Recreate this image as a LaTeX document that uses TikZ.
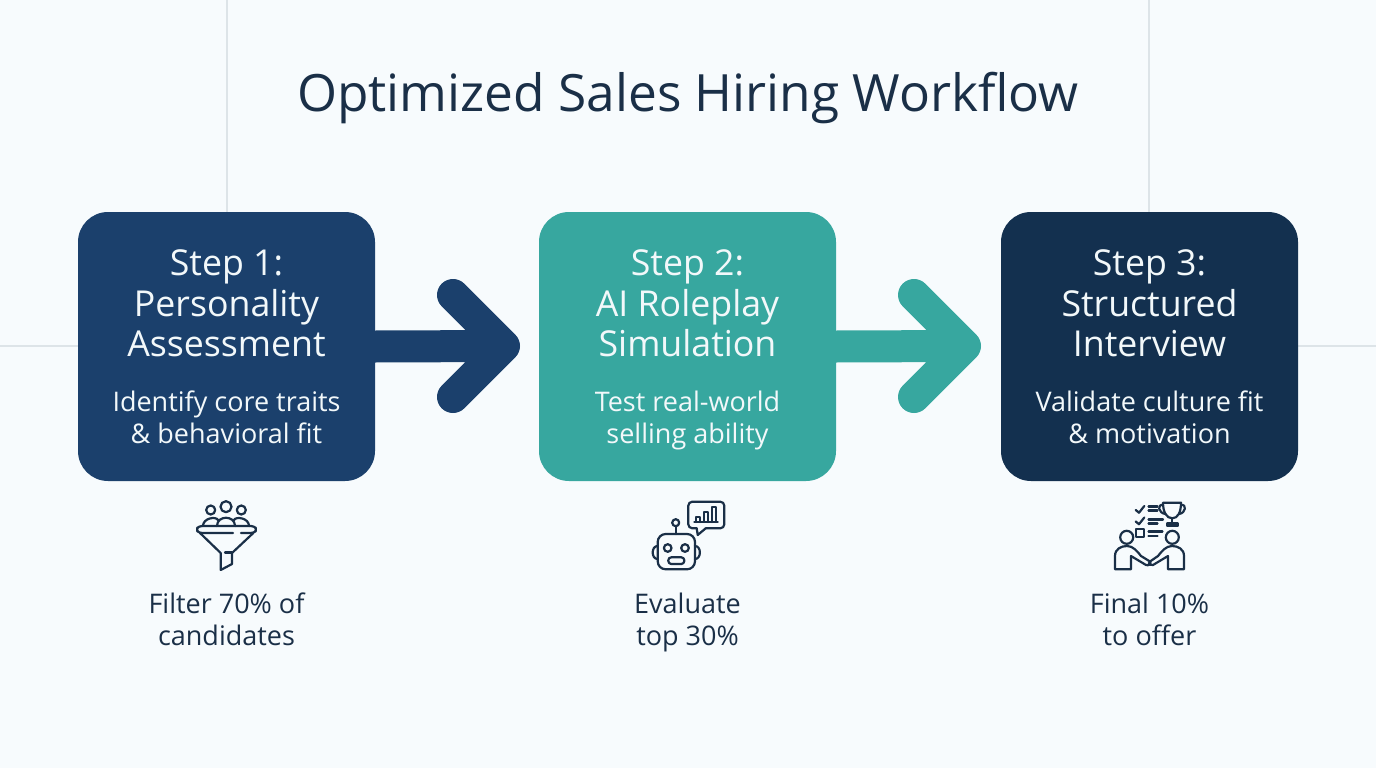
\documentclass[tikz,border=0pt]{standalone}
\usepackage{fontspec}
\setmainfont{Open Sans}
\definecolor{pagebg}{HTML}{F7FBFD}
\definecolor{gridline}{HTML}{DDE4E8}
\definecolor{navy}{HTML}{1B406C}
\definecolor{teal}{HTML}{37A79F}
\definecolor{midnight}{HTML}{13304F}
\definecolor{ink}{HTML}{1A2F47}
\definecolor{boxtext}{HTML}{F2F8FA}
\tikzset{
    stepbox/.style={minimum width=297pt, minimum height=269pt, inner sep=0pt, rounded corners=30pt},
    flowarrow/.style={line width=32pt, line join=round, line cap=round},
    headtext/.style={text=boxtext, align=center, text depth=0pt, font=\fontsize{35.7}{40.5}\selectfont},
    desctext/.style={text=boxtext, align=center, text depth=0pt, font=\fontsize{27}{32}\selectfont},
    notetext/.style={text=ink, align=center, text depth=0pt, font=\fontsize{27}{32}\selectfont},
    icon/.style={draw=ink, line width=2.2pt, line cap=round, line join=round},
}
\begin{document}
\begin{tikzpicture}[x=1pt,y=-1pt]
    \fill[pagebg] (0,0) rectangle (1376,768);
    \useasboundingbox (0,0) rectangle (1376,768);

    \draw[gridline, line width=1.2pt] (227,0) -- (227,212);
    \draw[gridline, line width=1.2pt] (1149,0) -- (1149,212);
    \draw[gridline, line width=1.2pt] (0,346) -- (78,346);
    \draw[gridline, line width=1.2pt] (1298,346) -- (1376,346);

    \node[text=ink, font=\fontsize{51.4}{60}\selectfont] (title) at (688,98.5) {Optimized Sales Hiring Workflow};

    \node[stepbox, fill=navy] (box1) at (226.5,346.5) {};
    \node[stepbox, fill=teal] (box2) at (687.5,346.5) {};
    \node[stepbox, fill=midnight] (box3) at (1149.5,346.5) {};

    \coordinate (tip1) at (504,346);
    \coordinate (tip2) at (965,346);
    \draw[navy, flowarrow] (box1.east) -- (tip1) ++(-51,-51) -- ++(51,51) -- ++(-51,51);
    \draw[teal, flowarrow] (box2.east) -- (tip2) ++(-51,-51) -- ++(51,51) -- ++(-51,51);

    \node[headtext] (head1) at (226.5,303.5) {Step 1:\\Personality\\Assessment};
    \node[headtext] (head2) at (687.5,303.5) {Step 2:\\AI Roleplay\\Simulation};
    \node[headtext] (head3) at (1149.5,303.5) {Step 3:\\Structured\\Interview};

    \node[desctext] (desc1) at (226.5,417) {Identify core traits\\\& behavioral fit};
    \node[desctext] (desc2) at (687.5,417) {Test real-world\\selling ability};
    \node[desctext] (desc3) at (1149.5,417) {Validate culture fit\\\& motivation};

    \node[notetext] (note1) at (226.5,619) {Filter 70\% of\\candidates};
    \node[notetext] (note2) at (687.5,619) {Evaluate\\top 30\%};
    \node[notetext] (note3) at (1149.5,619) {Final 10\%\\to offer};

    % funnel
    \draw[icon] (210.7,510) circle (4.5);
    \draw[icon] (226,506.7) circle (5.5);
    \draw[icon] (241.3,510) circle (4.5);
    \draw[icon] (203,526) .. controls (203,518) and (216,516) .. (218,520);
    \draw[icon] (217,526) .. controls (217,515) and (235,515) .. (235,526);
    \draw[icon] (249,526) .. controls (249,518) and (236,516) .. (234,520);
    \draw[icon, rounded corners=3pt] (233,533) -- (199,533) -- (196,529.5) -- (199,526) -- (254,526) -- (257,529.5) -- (254,533) -- (241,533);
    \draw[icon] (200,533) -- (220.7,553) -- (220.7,570) -- (232,564) -- (232,553) -- (253.3,533);
    \draw[icon] (225,552.5) -- (232,552.5);

    % robot
    \draw[icon, rounded corners=8pt] (657.7,534) rectangle (695,569.3);
    \draw[icon] (657.7,546) .. controls (651,546) and (651,559) .. (657.7,559);
    \draw[icon] (695,546) .. controls (701.5,546) and (701.5,559) .. (695,559);
    \draw[icon] (675.7,522.7) circle (3.5);
    \draw[icon] (675.7,526.2) -- (675.7,534);
    \draw[icon] (667.7,548) circle (3.8);
    \draw[icon] (685,548) circle (3.8);
    \draw[icon, rounded corners=3pt] (668.3,557.3) rectangle (684.3,564);
    \draw[icon, rounded corners=4pt] (696.7,528.3) -- (688.3,528.3) -- (688.3,501.7) -- (724.3,501.7) -- (724.3,528.3) -- (705.7,528.3);
    \draw[icon] (696.7,528.3) -- (697.7,535) -- (705.7,528.3);
    \draw[icon] (694.3,522.3) -- (717.7,522.3);
    \draw[icon, line width=1.8pt] (696,522.3) -- (696,517) -- (700,517) -- (700,522.3);
    \draw[icon, line width=1.8pt] (704,522.3) -- (704,512) -- (708,512) -- (708,522.3);
    \draw[icon, line width=1.8pt] (712,522.3) -- (712,507) -- (716,507) -- (716,522.3);

    % handshake, checklist and trophy
    \draw[icon] (1126.7,537.3) circle (6.5);
    \draw[icon] (1172.3,537.3) circle (6.5);
    \draw[icon] (1131,569.3) -- (1115,569.3) -- (1115,556) .. controls (1115,549) and (1121,546) .. (1127,546) .. controls (1133,546) and (1137,551) .. (1141,556) -- (1150,561.5) .. controls (1152,564) and (1148,566) .. (1146,565) -- (1131,556) -- (1131,569.3);
    \draw[icon] (1168,569.3) -- (1184,569.3) -- (1184,556) .. controls (1184,549) and (1178,546) .. (1172,546) .. controls (1166,546) and (1162,551) .. (1158,556) -- (1150,561.5) .. controls (1147,564) and (1151,566) .. (1153,565) -- (1168,556) -- (1168,569.3);
    \draw[icon] (1135.7,510) -- (1139,512.7) -- (1144.3,506);
    \draw[icon] (1135.7,521.5) -- (1139,524.2) -- (1144.3,517.5);
    \draw[icon] (1135.7,529.3) rectangle (1143.7,537.3);
    \draw[icon] (1148.5,506.5) -- (1157.5,506.5);
    \draw[icon] (1148.5,510.5) -- (1157.5,510.5);
    \draw[icon] (1148.5,519.5) -- (1163,519.5);
    \draw[icon] (1148.5,523.5) -- (1157.5,523.5);
    \draw[icon] (1148.5,531.5) -- (1162.5,531.5);
    \draw[icon] (1148.5,536) -- (1157.5,536);
    \draw[icon] (1163,502.7) -- (1181,502.7) .. controls (1181,512) and (1178,518.3) .. (1172.3,518.3) .. controls (1166.5,518.3) and (1163,512) .. (1163,502.7);
    \draw[icon] (1163,505) .. controls (1157,504) and (1158,513) .. (1165.5,514);
    \draw[icon] (1181,505) .. controls (1187,504) and (1186,513) .. (1179,514);
    \draw[icon] (1172.3,518.3) -- (1172.3,523);
    \draw[icon] (1167,526) -- (1167,523.5) -- (1178,523.5) -- (1178,526) -- cycle;
\end{tikzpicture}
\end{document}
